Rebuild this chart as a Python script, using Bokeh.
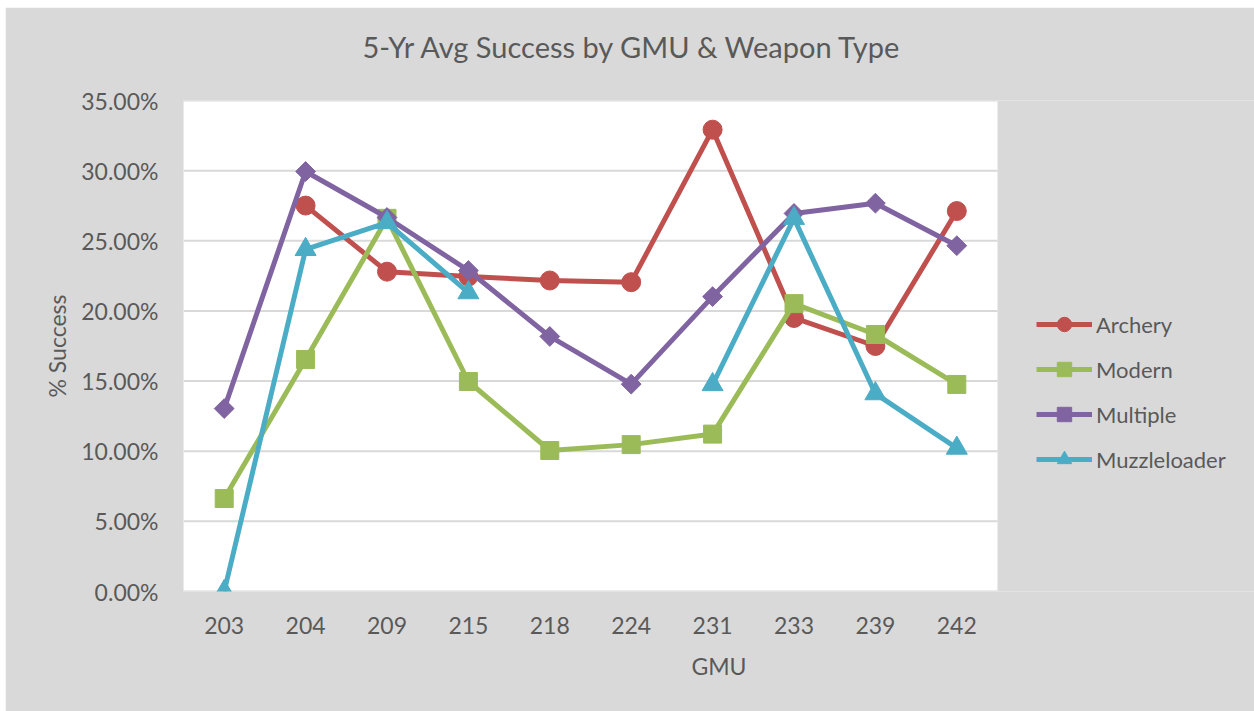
import math
from bokeh.plotting import figure
from bokeh.models import Range1d, NumeralTickFormatter, Legend, LegendItem, FixedTicker, ColumnDataSource
from bokeh.embed import file_html
from bokeh.resources import INLINE

nan = float("nan")
gmu = ["203", "204", "209", "215", "218", "224", "231", "233", "239", "242"]
archery = [nan, 0.2751, 0.2280, 0.2245, 0.2217, 0.2205, 0.3292, 0.1950, 0.1750, 0.2712]
modern = [0.0663, 0.1654, 0.2660, 0.1497, 0.1005, 0.1047, 0.1122, 0.2052, 0.1832, 0.1476]
multiple = [0.1304, 0.2994, 0.2666, 0.2288, 0.1818, 0.1478, 0.2102, 0.2695, 0.2768, 0.2465]
muzzleloader = [0.0, 0.2438, 0.2630, 0.2130, nan, nan, 0.1475, 0.2660, 0.1410, 0.1022]
y_ticks = [0.0, 0.05, 0.10, 0.15, 0.20, 0.25, 0.30, 0.35]

series = [
    ("Archery", archery, "#C0504D", "circle", 19, 0.0),
    ("Modern", modern, "#9BBB59", "square", 18, 0.0),
    ("Multiple", multiple, "#8064A2", "square", 14, math.pi / 4),
    ("Muzzleloader", muzzleloader, "#4BACC6", "triangle", 21, 0.0),
]

FONT = "Lato"
TXT = "#595959"
GRAY = "#D9D9D9"

W, H = 1249, 704
LEFT, TOP, BOTTOM = 178, 93, 120
PLOT_W = 814  # white plot area width in px
n = len(gmu)
x_idx = list(range(n))
x_lo = -0.5
x_hi = x_lo + n * (W - LEFT) / PLOT_W

p = figure(width=W, height=H, x_range=Range1d(x_lo, x_hi), y_range=Range1d(y_ticks[0], y_ticks[-1]),
           output_backend="svg", toolbar_location=None,
           min_border_left=LEFT, min_border_right=0, min_border_top=TOP, min_border_bottom=BOTTOM)
p.margin = (7, 0, 0, 5)
p.background_fill_color = GRAY
p.border_fill_color = GRAY
p.outline_line_color = None

# trailing empty line acts as spacing between the title and the plot area
p.title.text = "5-Yr Avg Success by GMU & Weapon Type\n"
p.title.align = "left"
p.title.vertical_align = "bottom"
p.title.offset = 179
p.title.text_font = FONT
p.title.text_font_size = "29px"
p.title.text_font_style = "normal"
p.title.text_color = TXT
p.title.standoff = 4

p.xgrid.grid_line_color = None
p.ygrid.grid_line_color = None

# white plot area and horizontal gridlines
p.quad(left=[x_lo], right=[n - 0.5], bottom=[y_ticks[0]], top=[y_ticks[-1]],
       fill_color="white", line_color=None)
p.segment(x0=[x_lo] * len(y_ticks), x1=[n - 0.5] * len(y_ticks), y0=y_ticks, y1=y_ticks,
          line_color=GRAY, line_width=2)

p.xaxis.ticker = FixedTicker(ticks=x_idx)
p.xaxis.major_label_overrides = {i: g for i, g in zip(x_idx, gmu)}
p.yaxis.ticker = FixedTicker(ticks=y_ticks)
p.yaxis.formatter = NumeralTickFormatter(format="0.00%")
for ax in (p.xaxis[0], p.yaxis[0]):
    ax.axis_line_color = None
    ax.major_tick_line_color = None
    ax.minor_tick_line_color = None
    ax.major_label_text_font = FONT
    ax.major_label_text_font_size = "23px"
    ax.major_label_text_color = TXT
    ax.axis_label_text_font = FONT
    ax.axis_label_text_font_size = "23px"
    ax.axis_label_text_color = TXT
    ax.axis_label_text_font_style = "normal"
p.xaxis.axis_label = "GMU"
p.yaxis.axis_label = "% Success"
p.yaxis.major_label_standoff = 19
p.xaxis.major_label_standoff = 19
p.xaxis.axis_label_standoff = 15
p.yaxis.axis_label_standoff = 7

items = []
for name, vals, color, marker, size, ang in series:
    src = ColumnDataSource(dict(x=x_idx, y=vals))
    r1 = p.line("x", "y", source=src, line_color=color, line_width=5)
    r2 = p.scatter("x", "y", source=src, marker=marker, size=size, angle=ang,
                   fill_color=color, line_color=color)
    items.append(LegendItem(label=name, renderers=[r1, r2]))

legend = Legend(items=items, location=(853, 114), orientation="vertical",
                glyph_width=56, glyph_height=36, label_height=36, spacing=9,
                padding=0, margin=0, label_standoff=4,
                label_text_font=FONT, label_text_font_size="22px", label_text_color=TXT,
                background_fill_alpha=0, border_line_color=None)
p.add_layout(legend, "center")

open("out.html", "w").write(file_html(p, INLINE))
